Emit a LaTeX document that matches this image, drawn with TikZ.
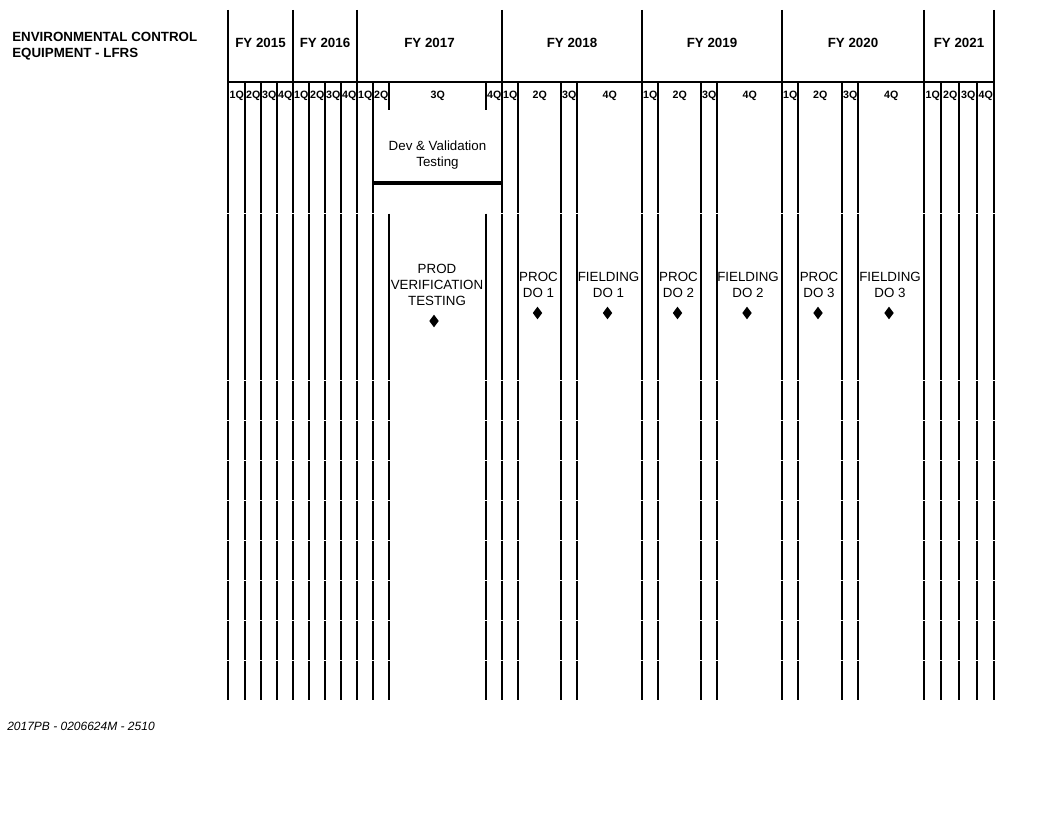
\documentclass[tikz,border=0pt]{standalone}
\usepackage{fontspec}
\setmainfont{Liberation Sans}
\usetikzlibrary{shapes.geometric}
\begin{document}
\begin{tikzpicture}[x=0.75pt,y=-0.75pt,
  grid/.style={line width=0.8pt, black},
  bar/.style={line width=3pt, black},
  yr/.style={font=\fontsize{10}{12}\selectfont\bfseries, inner sep=0pt},
  qt/.style={font=\fontsize{8}{9}\selectfont\bfseries, inner sep=0pt},
  lbl/.style={font=\fontsize{10}{12}\selectfont, align=center, inner sep=0pt},
  ttl/.style={font=\fontsize{10}{12}\selectfont\bfseries, align=left, inner sep=0pt, anchor=west},
  foot/.style={font=\fontsize{9}{11}\selectfont\itshape, inner sep=0pt, anchor=west},
  ms/.style={diamond, fill=black, draw=none, inner sep=0pt, minimum width=7.2pt, minimum height=9.6pt}]
\useasboundingbox (0,0) rectangle (1056,816);

% title and footer
\node[ttl] (title) at (12,46) {ENVIRONMENTAL CONTROL\\EQUIPMENT - LFRS};
\node[foot] (foot) at (7,726) {2017PB - 0206624M - 2510};

% year header lines
\foreach \x in {228,293,357,502,642,782,924,994}
  \draw[grid] (\x,10) -- (\x,82);
\draw[grid] (228,82) -- (994,82);

% year labels
\foreach \a/\b/\t [count=\i] in {228/293/FY 2015,293/357/FY 2016,357/502/FY 2017,502/642/FY 2018,642/782/FY 2019,782/924/FY 2020,924/994/FY 2021}
  \node[yr] (fy\i) at ({(\a+\b)/2},43) {\t};

% quarter labels
\foreach \a/\b/\t [count=\i] in {228/245/1Q,245/261/2Q,261/277/3Q,277/293/4Q,
  293/309/1Q,309/325/2Q,325/341/3Q,341/357/4Q,
  357/373/1Q,373/389/2Q,389/486/3Q,486/502/4Q,
  502/518/1Q,518/561/2Q,561/577/3Q,577/642/4Q,
  642/658/1Q,658/701/2Q,701/717/3Q,717/782/4Q,
  782/798/1Q,798/842/2Q,842/858/3Q,858/924/4Q,
  924/941/1Q,941/959/2Q,959/977/3Q,977/994/4Q}
  \node[qt] (q\i) at ({(\a+\b)/2+0.3},96) {\t};

% row 1 lines (no 389/486 below header)
\foreach \x in {228,245,261,277,293,309,325,341,357,373,502,518,561,577,642,658,701,717,782,798,842,858,924,941,959,977,994}
  \draw[grid] (\x,82) -- (\x,212.6);
\foreach \x in {389,486}
  \draw[grid] (\x,82) -- (\x,110);

% remaining rows
\foreach \ya/\yb in {213/380,380/420,420/460,460/500,500/540,540/580,580/620,620/660,660/700}
  \foreach \x in {228,245,261,277,293,309,325,341,357,373,389,486,502,518,561,577,642,658,701,717,782,798,842,858,924,941,959,977,994}
    \draw[grid] (\x,\ya+0.6) -- (\x,\yb-0.4);

% dev & validation
\node[lbl] (dev) at (437.5,155) {Dev \& Validation\\Testing};
\coordinate (barL) at (373,183);
\coordinate (barR) at (502,183);
\draw[bar] (barL) -- (barR);

% production items
\node[lbl] (prod) at (437,284.5) {PROD\\VERIFICATION\\TESTING};
\node[ms] (prodm) at (434,321) {};

\foreach \x/\t/\d/\n in {538.5/PROC/1/p1,608.5/FIELDING/1/f1,678.5/PROC/2/p2,748/FIELDING/2/f2,819/PROC/3/p3,890/FIELDING/3/f3}
{
  \node[lbl] (\n) at (\x,284.5) {\t\\DO \d};
  \node[ms] (\n m) at (\x-1,313) {};
}

\end{tikzpicture}
\end{document}
